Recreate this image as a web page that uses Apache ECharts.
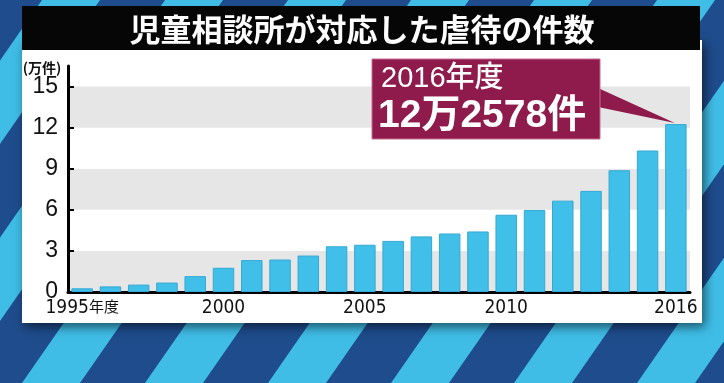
<!DOCTYPE html>
<html>
<head>
<meta charset="utf-8">
<script src="https://cdn.jsdelivr.net/npm/echarts@6/dist/echarts.min.js"></script>
<style>
html,body{margin:0;padding:0;background:#1e4b8b;}
#chart{width:724px;height:383px;}
</style>
</head>
<body>
<div id="chart"></div>
<script>
// ---- data ----
const titleText = '児童相談所が対応した虐待の件数';
const unitLabel = '(万件)';
const years = ['1995','1996','1997','1998','1999','2000','2001','2002','2003','2004','2005',
               '2006','2007','2008','2009','2010','2011','2012','2013','2014','2015','2016'];
// cases handled, in 万件 (10,000 cases)
const cases = [0.27,0.41,0.54,0.69,1.16,1.77,2.33,2.37,2.66,3.34,3.45,
               3.73,4.06,4.27,4.42,5.64,5.99,6.67,7.38,8.89,10.33,12.26];
const xLabelYears = ['1995','2000','2005','2010','2016'];
const xLabelSuffix = ['年度','','','',''];
const yTicks = [0,3,6,9,12,15];
const calloutLines = ['2016年度','12万2578件'];

// ---- chart ----
const W = 724, H = 383;
const chart = echarts.init(document.getElementById('chart'), null, {renderer:'canvas'});

const bgGraphics = [];
bgGraphics.push({type:'rect', z:-100, shape:{x:0,y:0,width:W,height:H}, style:{fill:'#1f4c8c'}, silent:true});
const period = 123, stripeW = 58, shift = 266;
for (let k = -4; k <= 8; k++) {
  const bx = 22 + k*period;
  bgGraphics.push({type:'polygon', z:-99, silent:true,
    shape:{points:[[bx,H],[bx+stripeW,H],[bx+stripeW+shift,0],[bx+shift,0]]},
    style:{fill:'#3fbde6'}});
}
// white panel with shadow
bgGraphics.push({type:'rect', z:-90, silent:true, shape:{x:22,y:40,width:680,height:283},
  style:{fill:'#ffffff', shadowBlur:10, shadowColor:'rgba(0,0,0,0.55)', shadowOffsetX:3, shadowOffsetY:4}});
// title bar
bgGraphics.push({type:'rect', z:-80, silent:true, shape:{x:22,y:6,width:678,height:44}, style:{fill:'#060606'}});
bgGraphics.push({type:'text', z:-79, silent:true, x:362, y:29,
  style:{text:titleText, fill:'#ffffff', font:'bold 31px "Noto Sans CJK JP"', align:'center', verticalAlign:'middle'}});
// unit label
bgGraphics.push({type:'text', z:10, silent:true, x:42, y:68,
  style:{text:unitLabel, fill:'#111111', font:'bold 14px "Noto Sans CJK JP"', align:'center', verticalAlign:'middle'}});

const option = {
  animation:false,
  backgroundColor:'transparent',
  grid:{left:68, right:34, top:66, bottom:91},
  xAxis:{
    type:'category', data:years, boundaryGap:true,
    axisLine:{show:true, lineStyle:{color:'#000', width:3}},
    axisTick:{show:false},
    axisLabel:{
      interval:(i, v) => xLabelYears.indexOf(v) >= 0,
      formatter:(v) => {
        const s = xLabelSuffix[xLabelYears.indexOf(v)];
        return s ? '{y|' + v + '}{n|' + s + '}' : '{y|' + v + '}';
      },
      margin:4,
      rich:{
        y:{color:'#111', fontSize:19, lineHeight:22, verticalAlign:'bottom', fontFamily:'"DejaVu Sans Condensed","Liberation Sans Narrow",sans-serif'},
        n:{color:'#111', fontSize:15, lineHeight:22, verticalAlign:'bottom', padding:[0,0,4,0], fontFamily:'"Noto Sans CJK JP"'}
      }
    },
    splitLine:{show:false}
  },
  yAxis:{
    type:'value', min:0, max:16.5, interval:3,
    axisLine:{show:true, lineStyle:{color:'#000', width:3}},
    axisTick:{show:true, inside:true, length:6, lineStyle:{color:'#000', width:2}, customValues:yTicks},
    axisLabel:{customValues:yTicks, formatter:(v) => (yTicks.indexOf(v) >= 0 ? String(v) : ''),
      color:'#111', fontSize:23, margin:10, fontFamily:'"Liberation Sans",Arial,sans-serif'},
    splitLine:{show:false},
    splitArea:{show:true, areaStyle:{color:['#e6e6e6','#ffffff']}}
  },
  series:[{
    type:'bar', data:cases, barCategoryGap:'24%',
    itemStyle:{color:'#40bfe8', borderColor:'#34a8d4', borderWidth:1}
  }],
  graphic:bgGraphics
};
chart.setOption(option);

// callout pointing to last bar
const lastIdx = cases.length - 1;
const tip = chart.convertToPixel({seriesIndex:0}, [lastIdx, cases[lastIdx]]);
const box = {x:372, y:59, w:228, h:80};
const callout = [
  {type:'polygon', z:100, silent:true,
   shape:{points:[[box.x+box.w-2, 88],[box.x+box.w-2, 107],[tip[0]-1, tip[1]-1]]},
   style:{fill:'#8e1b4b'}},
  {type:'rect', z:101, silent:true, shape:{x:box.x,y:box.y,width:box.w,height:box.h},
   style:{fill:'#8e1b4b', stroke:'#c86a92', lineWidth:1}},
  {type:'text', z:102, silent:true, x:381, y:79,
   style:{text:calloutLines[0], fill:'#ffffff', font:'500 29px "Liberation Sans","Noto Sans CJK JP"', verticalAlign:'middle'}},
  {type:'text', z:102, silent:true, x:378, y:116,
   style:{text:calloutLines[1], fill:'#ffffff', font:'bold 39px "Liberation Sans","Noto Sans CJK JP"', verticalAlign:'middle'}}
];
chart.setOption({graphic: bgGraphics.concat(callout)});
</script>
</body>
</html>
